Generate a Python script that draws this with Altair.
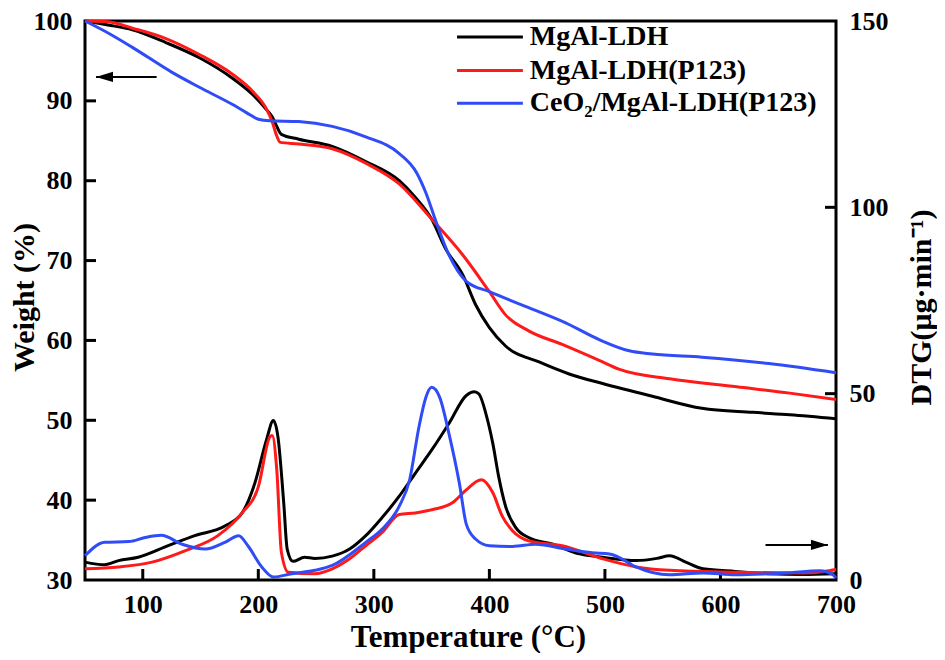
import altair as alt
import pandas as pd

series_names = ["MgAl-LDH", "MgAl-LDH(P123)", "CeO₂/MgAl-LDH(P123)"]
series_colors = ["#000000", "#ff1a1a", "#2f4cf6"]

# ---- TG curves (Weight %, left axis) ----
tg_black_t = [50, 70, 91, 120, 149, 177, 195, 207, 212, 216, 220, 235, 264, 293, 322, 336, 350, 362, 377, 388, 400, 414, 443, 469, 498, 541, 584, 628, 660, 700]
tg_black_w = [100, 99.5, 98.9, 97.3, 95.4, 92.9, 90.8, 88.9, 88.0, 86.8, 85.8, 85.2, 84.3, 82.4, 80.0, 77.9, 75.2, 71.5, 68.2, 64.5, 61.6, 59.3, 57.3, 55.8, 54.6, 53.0, 51.5, 51.0, 50.7, 50.2]

tg_red_t = [50, 70, 91, 120, 149, 177, 195, 207, 212, 216, 219, 235, 264, 293, 322, 350, 377, 400, 414, 434, 463, 495, 512, 556, 614, 660, 700]
tg_red_w = [100, 99.9, 99.1, 97.8, 95.8, 93.4, 91.2, 89.0, 87.4, 85.6, 84.8, 84.6, 84.0, 82.2, 79.6, 75.2, 70.7, 66.1, 63.2, 61.2, 59.5, 57.5, 56.4, 55.2, 54.2, 53.4, 52.6]

tg_blue_t = [50, 70, 91, 125, 149, 177, 190, 200, 210, 235, 264, 293, 322, 337, 345, 354, 365, 380, 400, 434, 466, 495, 521, 541, 584, 642, 700]
tg_blue_w = [100, 98.5, 96.7, 93.6, 91.7, 89.6, 88.5, 87.7, 87.5, 87.4, 86.8, 85.5, 83.4, 81.0, 78.5, 74.8, 70.7, 67.4, 66.1, 64.1, 62.2, 60.1, 58.7, 58.3, 57.9, 57.1, 55.95]

# ---- DTG curves (μg·min⁻¹, right axis) ----
dtg_black_t = [50, 67, 79, 96, 122, 145, 171, 186, 197, 207, 213, 217, 222, 225, 230, 240, 249, 264, 279, 293, 307, 322, 336, 351, 365, 380, 387, 391, 397, 403, 408, 414, 423, 434, 455, 478, 498, 527, 545, 556, 570, 585, 613, 642, 670, 700]
dtg_black_d = [4.8, 4.1, 5.2, 6.1, 9.2, 11.9, 14.5, 18, 26, 37.5, 42.8, 38.4, 20.7, 8.3, 5.0, 6.1, 5.8, 6.4, 8.3, 11.9, 16.7, 22.5, 28.7, 35.3, 42, 49.5, 50.5, 49.9, 44.6, 36.6, 27.8, 19.8, 14, 11.4, 9.6, 7, 6.1, 5.2, 5.8, 6.5, 4.8, 3, 2.3, 1.7, 1.5, 1.7]

dtg_red_t = [50, 79, 108, 137, 165, 186, 200, 210, 212, 216, 220, 226, 249, 264, 279, 293, 307, 322, 336, 351, 368, 380, 393, 403, 411, 420, 434, 463, 498, 527, 556, 613, 671, 690, 700]
dtg_red_d = [3.0, 3.5, 4.8, 7.9, 11.9, 18, 25, 38.4, 38.8, 29.5, 7.4, 2.1, 1.7, 3.0, 5.7, 9.2, 12.7, 17.6, 18, 18.9, 20.7, 24.2, 26.9, 23.4, 17.2, 13.2, 10.5, 9.2, 5.7, 3.5, 2.6, 2.1, 1.9, 2.3, 2.8]

dtg_blue_t = [50, 67, 88, 102, 116, 134, 154, 171, 183, 191, 203, 213, 229, 249, 264, 293, 307, 322, 331, 339, 345, 350, 357, 365, 374, 380, 388, 400, 420, 440, 466, 489, 504, 512, 527, 556, 585, 613, 657, 686, 697, 700]
dtg_blue_d = [6.5, 10.1, 10.3, 11.4, 12.0, 9.6, 8.3, 10.1, 11.9, 9.2, 3.5, 0.8, 1.7, 2.6, 3.9, 10.1, 13.6, 19.8, 26.9, 41, 49, 51.7, 49, 39.3, 26, 15.0, 11, 9.2, 9, 9.6, 8.3, 7.3, 7, 6.1, 3.5, 1.4, 1.9, 1.4, 1.9, 2.5, 1.5, 0.5]

# ---- axes ticks ----
x_ticks = [100, 200, 300, 400, 500, 600, 700]
left_ticks = [30, 40, 50, 60, 70, 80, 90, 100]
right_ticks = [0, 50, 100, 150]

# ---- legend (placed in data units of the TG axes) ----
legend_rows = [98.0, 93.8, 89.7]
legend_line_from = 372
legend_line_to = 429
legend_text_at = 435

# ---- arrows (annotation, in data units) ----
left_arrow = {"tip": [59.5], "tail": [112], "w": [93.0]}
right_arrow = {"tip": [693], "tail": [639], "d": [9.4]}

W, H = 751, 559
FONT = "Liberation Serif"


def frame(ts, vs, name):
    return pd.DataFrame({"T": ts, "V": vs, "S": name})


tg_df = pd.concat([frame(tg_black_t, tg_black_w, series_names[0]),
                   frame(tg_red_t, tg_red_w, series_names[1]),
                   frame(tg_blue_t, tg_blue_w, series_names[2])])
dtg_df = pd.concat([frame(dtg_black_t, dtg_black_d, series_names[0]),
                    frame(dtg_red_t, dtg_red_d, series_names[1]),
                    frame(dtg_blue_t, dtg_blue_d, series_names[2])])
leg_df = pd.DataFrame({"S": series_names, "y": legend_rows,
                       "x1": [legend_line_from] * 3, "x2": [legend_line_to] * 3,
                       "xt": [legend_text_at] * 3})

x_scale = alt.Scale(domain=[50, 700], nice=False, zero=False)
x_axis = alt.Axis(values=x_ticks, title="Temperature (°C)", ticks=False, domain=False, grid=False,
                  labelFlush=False, labelPadding=11, titleX=383, titleY=57,
                  titleBaseline="middle", titleAlign="center", titleFontSize=31)
yl_scale = alt.Scale(domain=[30, 100], nice=False, zero=False)
yl_axis = alt.Axis(values=left_ticks, title="Weight (%)", ticks=False, domain=False, grid=False,
                   labelFlush=False, labelPadding=13, titleAngle=270, titleX=-61, titleY=276,
                   titleBaseline="middle", titleAlign="center", titleFontSize=30)
yr_scale = alt.Scale(domain=[0, 150], nice=False, zero=False)
yr_axis = alt.Axis(values=right_ticks, title="DTG(μg·min⁻¹)", orient="right", ticks=False, domain=False,
                   grid=False, labelFlush=False, labelPadding=13, titleAngle=270, titleX=85, titleY=286,
                   titleBaseline="middle", titleAlign="center", titleFontSize=30)

color = alt.Color("S:N", scale=alt.Scale(domain=series_names, range=series_colors), legend=None)

X = alt.X("T:Q", scale=x_scale, axis=x_axis)
YL = alt.Y("V:Q", scale=yl_scale, axis=yl_axis)

tg_lines = alt.Chart(tg_df).mark_line(strokeWidth=3, interpolate="monotone").encode(
    x=X, y=YL, color=color)

lt = alt.Chart(pd.DataFrame({"v": left_ticks[1:-1]})).mark_rule(color="black", strokeWidth=3).encode(
    x=alt.value(0), x2=alt.value(11), y=alt.Y("v:Q", scale=yl_scale, axis=yl_axis))

bt = alt.Chart(pd.DataFrame({"v": x_ticks[:-1]})).mark_rule(color="black", strokeWidth=3).encode(
    x=alt.X("v:Q", scale=x_scale, axis=x_axis), y=alt.value(H), y2=alt.value(H - 11))

la_df = pd.DataFrame(left_arrow)
la_line = alt.Chart(la_df).mark_rule(color="black", strokeWidth=2).encode(
    x=alt.X("tip:Q", scale=x_scale, axis=x_axis), x2="tail:Q", y=alt.Y("w:Q", scale=yl_scale, axis=yl_axis))
la_head = alt.Chart(la_df).mark_point(shape="M0,0L2,-0.6L2,0.6Z", filled=True, size=289, color="black",
                                      opacity=1, strokeWidth=0).encode(
    x=alt.X("tip:Q", scale=x_scale, axis=x_axis), y=alt.Y("w:Q", scale=yl_scale, axis=yl_axis))

leg_lines = alt.Chart(leg_df).mark_rule(strokeWidth=3).encode(
    x=alt.X("x1:Q", scale=x_scale, axis=x_axis), x2="x2:Q",
    y=alt.Y("y:Q", scale=yl_scale, axis=yl_axis), color=color)
leg_text = alt.Chart(leg_df).mark_text(align="left", baseline="middle", font=FONT, fontSize=28,
                                       fontWeight="bold", color="black").encode(
    x=alt.X("xt:Q", scale=x_scale, axis=x_axis), y=alt.Y("y:Q", scale=yl_scale, axis=yl_axis),
    text="S:N")

left = alt.layer(tg_lines, lt, bt, la_line, la_head, leg_lines, leg_text)

dtg_lines = alt.Chart(dtg_df).mark_line(strokeWidth=3, interpolate="monotone").encode(
    x=X, y=alt.Y("V:Q", scale=yr_scale, axis=yr_axis), color=color)

rt = alt.Chart(pd.DataFrame({"v": right_ticks[1:-1]})).mark_rule(color="black", strokeWidth=3).encode(
    x=alt.value(W - 11), x2=alt.value(W), y=alt.Y("v:Q", scale=yr_scale, axis=yr_axis))

ra_df = pd.DataFrame(right_arrow)
ra_line = alt.Chart(ra_df).mark_rule(color="black", strokeWidth=2).encode(
    x=alt.X("tail:Q", scale=x_scale, axis=x_axis), x2="tip:Q", y=alt.Y("d:Q", scale=yr_scale, axis=yr_axis))
ra_head = alt.Chart(ra_df).mark_point(shape="M0,0L-2,-0.6L-2,0.6Z", filled=True, size=289, color="black",
                                      opacity=1, strokeWidth=0).encode(
    x=alt.X("tip:Q", scale=x_scale, axis=x_axis), y=alt.Y("d:Q", scale=yr_scale, axis=yr_axis))

right = alt.layer(dtg_lines, rt, ra_line, ra_head)

chart = alt.layer(left, right).resolve_scale(y="independent").properties(
    width=W, height=H,
    autosize=alt.AutoSizeParams(type="none"),
    padding={"left": 77, "top": 13, "right": 101, "bottom": 73},
    background="white",
).configure_view(stroke="black", strokeWidth=3).configure_axis(
    labelFont=FONT, labelFontSize=26, labelFontWeight="bold", labelColor="black",
    titleFont=FONT, titleFontWeight="bold", titleColor="black",
)

chart.save("out.html", embed_options={"renderer": "svg", "actions": False})
